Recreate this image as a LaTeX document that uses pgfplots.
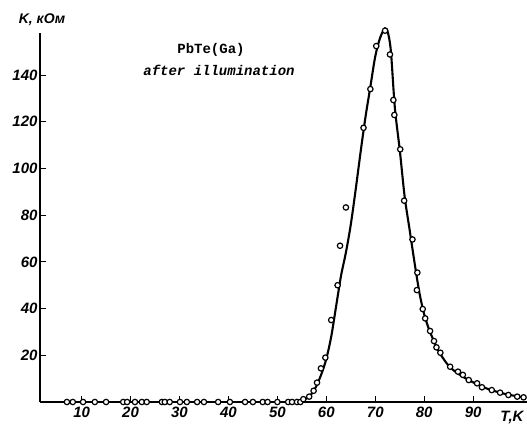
\documentclass[border=0pt]{standalone}
\usepackage{fontspec}
\setmainfont{Liberation Sans}
\setmonofont{Liberation Mono}
\usepackage{pgfplots}
\pgfplotsset{compat=1.18}

% measured points, T in K, R in kOhm
\pgfplotstableread{
T R
7.0 0
8.2 0
10.3 0
12.7 0
15.0 0
18.5 0
19.3 0
20.9 0
22.3 0
23.3 0
26.4 0
27.0 0
28.0 0
30.1 0
31.5 0
33.6 0
35.0 0
37.9 0
40.3 0
43.4 0
45.0 0
47.0 0
48.0 0
50.0 0
52.2 0
53.0 0
54.0 0
54.7 0
55.3 1.2
56.5 2.3
57.4 4.8
58.1 8.3
58.9 14.4
59.8 19.0
61.0 35.1
62.3 50.0
62.8 66.9
64.0 83.3
67.6 117.4
69.0 134.0
70.2 152.4
72.0 159.0
73.0 148.8
73.7 129.3
73.9 122.9
75.1 108.2
75.9 86.2
77.6 69.6
78.6 55.4
78.5 47.9
79.7 39.8
80.2 35.8
81.2 30.4
82.0 26.1
82.5 23.4
83.3 21.1
85.3 15.1
86.9 13.0
87.9 11.6
89.1 9.4
90.8 8.0
91.8 6.3
93.8 5.1
95.5 4.0
97.2 3.0
99.0 2.3
100.3 2.0
}\points

% fitted curve
\pgfplotstableread{
T R
52 0
54 0.3
55 0.7
56 1.6
57 3.5
58 7
59 12
60 18.5
61 28
62 41
63 54
64 64
65 76
66 91
67 107
68 122
69 135
70 148
71 156
72 160
72.6 158
73.2 150
74 126
75 108
76 88
77 74
78 60
79 47
80 37.5
81 31
82 26
83 21.5
85 15.5
87 12
89 9.5
91 7.4
93 5.6
95 4.3
97 3.2
100 2.1
}\curve

\begin{document}
\begin{tikzpicture}[x=1pt,y=1pt]
\useasboundingbox (0,0) rectangle (527,425);
\begin{axis}[
  at={(40pt,23pt)}, anchor=south west,
  scale only axis, width=487pt, height=369pt,
  xmin=1.5, xmax=101, ymin=0, ymax=158,
  axis lines=left,
  axis line style={-, line width=1.7pt},
  clip=false,
  xtick={10,20,...,90}, ytick={20,40,...,140},
  tick align=inside, major tick length=6pt,
  tick style={line width=1pt, black},
  /pgf/number format/assume math mode=true,
  ticklabel style={font=\fontsize{15}{15}\selectfont\itshape\bfseries},
  yticklabel style={xshift=1pt},
  xticklabel style={yshift=-1pt},
]
\addplot[black, line width=2.1pt, smooth, tension=0.5] table[x=T, y=R] {\curve};
\addplot[only marks, mark=*, mark size=2.7pt,
  mark options={fill=white, draw=black, line width=1.2pt}] table[x=T, y=R] {\points};
\end{axis}
\node[font=\fontsize{14}{14}\selectfont\itshape\bfseries] at (42,405) {K, кОм};
\node[font=\fontsize{15}{15}\selectfont\itshape\bfseries] at (512,7) {T,K};
\node[font=\ttfamily\bfseries\fontsize{14}{14}\selectfont] at (211,375) {PbTe(Ga)};
\node[font=\ttfamily\bfseries\fontsize{14}{14}\selectfont\itshape] at (219,355) {after illumination};
\end{tikzpicture}
\end{document}
